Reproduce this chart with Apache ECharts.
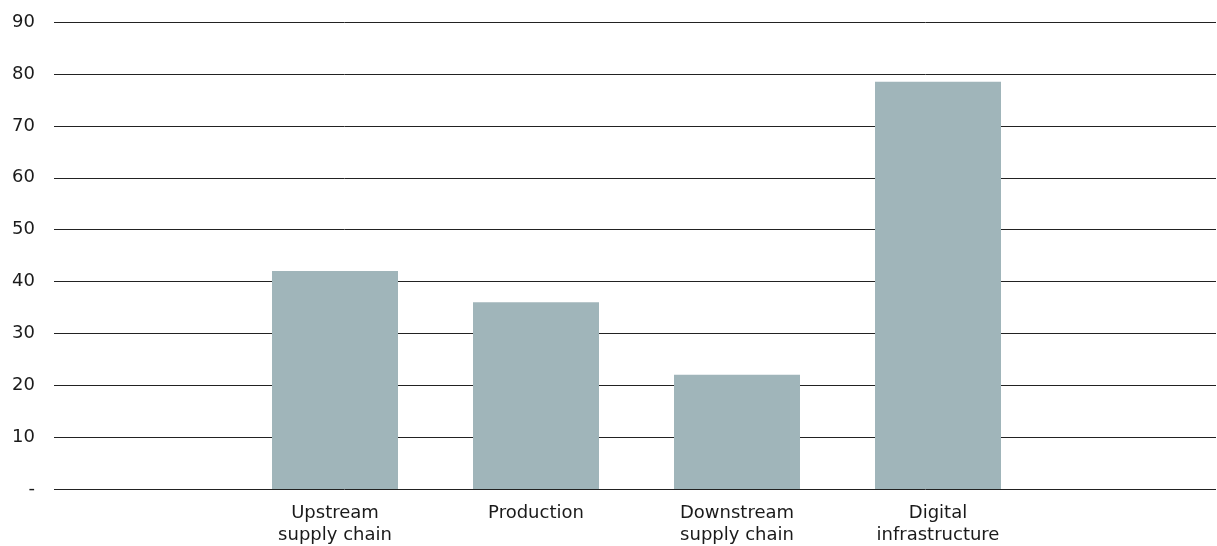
<!DOCTYPE html>
<html>
<head>
<meta charset="utf-8">
<script src="https://cdn.jsdelivr.net/npm/echarts@6/dist/echarts.min.js"></script>
<style>
  html, body { margin: 0; padding: 0; background: #fff; }
  #chart { width: 1217px; height: 546px; }
</style>
</head>
<body>
<div id="chart"></div>
<script>
// Categories and values shown as bars
const categories = [
  'Upstream\nsupply chain',
  'Production',
  'Downstream\nsupply chain',
  'Digital\ninfrastructure'
];
const values = [42, 36, 22, 78.5];
const yTicks = { min: 0, max: 90, step: 10 };

const FONT = '"DejaVu Sans", sans-serif';
const chart = echarts.init(document.getElementById('chart'), null, { renderer: 'canvas' });

const gridTop = 22, gridBottom = 56.7;

chart.setOption({
  animation: false,
  grid: [
    // full-width grid carrying the value axis and its rules
    { left: 54, right: 1, top: gridTop, bottom: gridBottom },
    // narrower grid holding the bars
    { left: 234.5, right: 178.5, top: gridTop, bottom: gridBottom }
  ],
  xAxis: [
    { gridIndex: 0, type: 'value', min: 0, max: 1, show: false },
    {
      gridIndex: 1,
      type: 'category',
      data: categories,
      axisLine: { show: false },
      axisTick: { show: false },
      axisLabel: {
        color: '#1a1a1a',
        fontFamily: FONT,
        fontSize: 18,
        lineHeight: 22,
        margin: 13
      }
    }
  ],
  yAxis: [
    {
      gridIndex: 0,
      type: 'value',
      min: yTicks.min,
      max: yTicks.max,
      interval: yTicks.step,
      axisLine: { show: false },
      axisTick: { show: false },
      axisLabel: {
        color: '#1a1a1a',
        fontFamily: FONT,
        fontSize: 18,
        margin: 19,
        formatter: v => (v === 0 ? '-' : String(v))
      },
      splitLine: { show: true, lineStyle: { color: '#222', width: 1 } }
    },
    {
      gridIndex: 1,
      type: 'value',
      min: yTicks.min,
      max: yTicks.max,
      interval: yTicks.step,
      show: false
    }
  ],
  series: [
    {
      type: 'bar',
      xAxisIndex: 1,
      yAxisIndex: 1,
      data: values,
      barWidth: 126,
      itemStyle: { color: '#a0b5ba' },
      z: 3
    }
  ]
});
</script>
</body>
</html>
